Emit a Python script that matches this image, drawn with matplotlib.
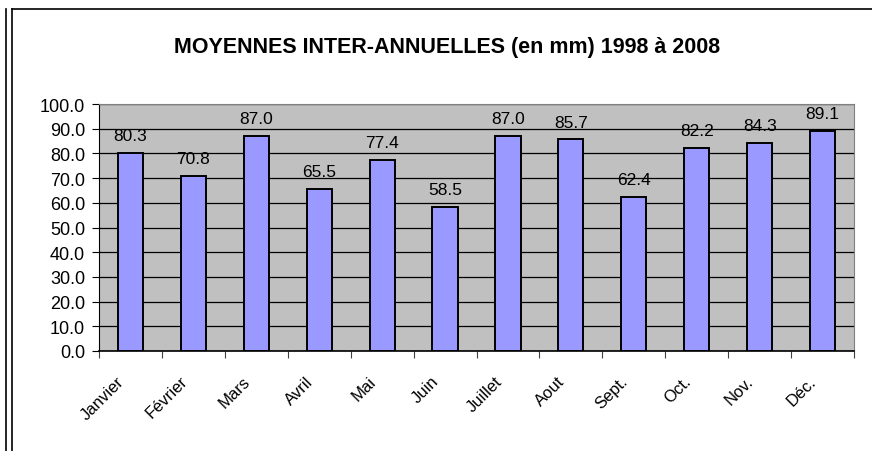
import numpy as np
import matplotlib
matplotlib.use('Agg')
import matplotlib.pyplot as plt
from matplotlib.lines import Line2D

months = ['Janvier', 'Février', 'Mars', 'Avril', 'Mai', 'Juin',
          'Juillet', 'Aout', 'Sept.', 'Oct.', 'Nov.', 'Déc.']
rain = [80.3, 70.8, 87.0, 65.5, 77.4, 58.5, 87.0, 85.7, 62.4, 82.2, 84.3, 89.1]
yticks = np.arange(0, 101, 10)

plt.rcParams['font.family'] = ['Liberation Sans', 'DejaVu Sans']

W, H = 872, 452
fig = plt.figure(figsize=(W / 100, H / 100), dpi=100)
ax = fig.add_axes([99 / W, 1 - 352 / H, (854 - 99) / W, (352 - 105) / H])

# outer frame like the spreadsheet export
fig.add_artist(Line2D([6 / W, 6 / W], [0, 1 - 10 / H], color='k', lw=1.2))
fig.add_artist(Line2D([12 / W, 12 / W], [0, 1 - 10 / H], color='k', lw=1.2))
fig.add_artist(Line2D([12 / W, 1], [1 - 10 / H, 1 - 10 / H], color='k', lw=1.2))

x = np.arange(len(months))
ax.set_facecolor('#C0C0C0')
ax.set_axisbelow(True)
ax.yaxis.grid(True, color='k', lw=0.9)
bars = ax.bar(x, rain, width=0.4, color='#9999FF', edgecolor='k', lw=1.4, zorder=3)

for xi, v in zip(x, rain):
    ax.annotate('%.1f' % v, (xi, v), xytext=(0, 7), textcoords='offset points',
                ha='center', va='bottom', fontsize=12.5, clip_on=False)

ax.set_xlim(-0.5, len(months) - 0.5)
ax.set_ylim(0, 100)
ax.set_yticks(yticks)
ax.set_yticklabels(['%.1f' % t for t in yticks], fontsize=13)
ax.set_xticks(np.arange(len(months) + 1) - 0.5)
ax.set_xticklabels([])
# rotated labels end a little left of the category centre
ax.set_xticks(x - 0.22, minor=True)
ax.set_xticklabels(months, minor=True, rotation=45, ha='right', va='top',
                   rotation_mode='anchor', fontsize=12)
ax.tick_params(axis='x', which='minor', length=0, pad=16)
ax.tick_params(axis='x', which='major', length=5, color='#404040')
ax.tick_params(axis='y', length=5, pad=5)

for s in ['top', 'right']:
    ax.spines[s].set_color('#808080')
ax.spines['left'].set_color('k')
ax.spines['bottom'].set_color('k')
ax.spines['bottom'].set_linewidth(1.2)

fig.text(447 / W, 1 - 47 / H, 'MOYENNES INTER-ANNUELLES (en mm) 1998 à 2008',
         ha='center', va='center', fontsize=15.5, fontweight='bold')

fig.savefig('out.png', dpi=100)
